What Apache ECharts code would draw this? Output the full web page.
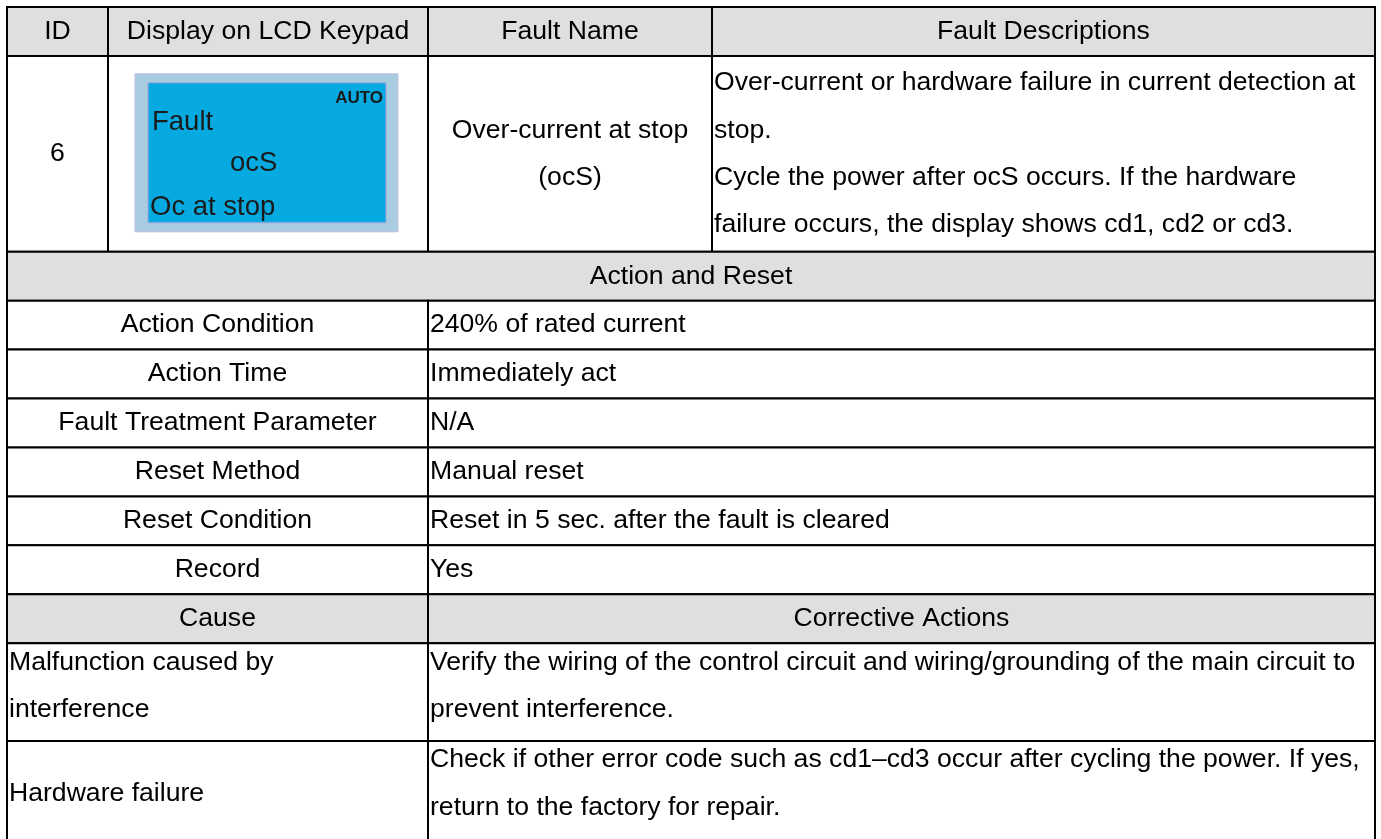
<!DOCTYPE html>
<html>
<head>
<meta charset="utf-8">
<script src="https://cdn.jsdelivr.net/npm/echarts@6/dist/echarts.min.js"></script>
<style>
html,body{margin:0;padding:0;background:#fff;}
#chart{width:1381px;height:839px;}
</style>
</head>
<body>
<div id="chart"></div>
<script>
// ---- table content ----
const headers = ['ID', 'Display on LCD Keypad', 'Fault Name', 'Fault Descriptions'];
const faultId = '6';
const lcdLines = ['AUTO', 'Fault', 'ocS', 'Oc at stop'];
const faultName = ['Over-current at stop', '(ocS)'];
const faultDesc = [
  'Over-current or hardware failure in current detection at',
  'stop.',
  'Cycle the power after ocS occurs. If the hardware',
  'failure occurs, the display shows cd1, cd2 or cd3.'
];
const sectionTitle = 'Action and Reset';
const actionLabels = ['Action Condition', 'Action Time', 'Fault Treatment Parameter', 'Reset Method', 'Reset Condition', 'Record'];
const actionValues = ['240% of rated current', 'Immediately act', 'N/A', 'Manual reset', 'Reset in 5 sec. after the fault is cleared', 'Yes'];
const causeHeaders = ['Cause', 'Corrective Actions'];
const causes = [['Malfunction caused by', 'interference'], ['Hardware failure']];
const corrective = [
  ['Verify the wiring of the control circuit and wiring/grounding of the main circuit to', 'prevent interference.'],
  ['Check if other error code such as cd1\u2013cd3 occur after cycling the power. If yes,', 'return to the factory for repair.']
];

// ---- layout (structure of the table, not data) ----
const COL_W = [101, 320, 284, 663];
const colX = [0];
COL_W.forEach(w => colX.push(colX[colX.length - 1] + w));
const TOTAL_W = colX[colX.length - 1];
const ROWS_TOTAL = 17;
const HEADER_FILL = '#dfdfdf';
const FONT = '"Liberation Sans", Arial, sans-serif';
const FS = 26.6;
const LH = 47.3;

// build cells
const cells = [];
headers.forEach((h, i) => cells.push({c: [i, i + 1], r: [0, 1], lines: [h], fill: HEADER_FILL, align: 'center'}));
cells.push({c: [0, 1], r: [1, 5], lines: [faultId], align: 'center'});
cells.push({c: [1, 2], r: [1, 5], lines: lcdLines, kind: 'lcd'});
cells.push({c: [2, 3], r: [1, 5], lines: faultName, align: 'center'});
cells.push({c: [3, 4], r: [1, 5], lines: faultDesc, align: 'left'});
cells.push({c: [0, 4], r: [5, 6], lines: [sectionTitle], fill: HEADER_FILL, align: 'center'});
actionLabels.forEach((lab, i) => {
  cells.push({c: [0, 2], r: [6 + i, 7 + i], lines: [lab], align: 'center'});
  cells.push({c: [2, 4], r: [6 + i, 7 + i], lines: [actionValues[i]], align: 'left'});
});
const causeTop = 6 + actionLabels.length;
cells.push({c: [0, 2], r: [causeTop, causeTop + 1], lines: [causeHeaders[0]], fill: HEADER_FILL, align: 'center'});
cells.push({c: [2, 4], r: [causeTop, causeTop + 1], lines: [causeHeaders[1]], fill: HEADER_FILL, align: 'center'});
let rr = causeTop + 1;
causes.forEach((cs, i) => {
  const span = 2;
  const last = i === causes.length - 1;
  const r1 = last ? rr + span + 0.15 : rr + span;
  cells.push({c: [0, 2], r: [rr, r1], lines: cs, align: 'left', topMode: cs.length > 1});
  cells.push({c: [2, 4], r: [rr, r1], lines: corrective[i], align: 'left', topMode: corrective[i].length > 1});
  rr += span;
});

const data = cells.map((c, i) => [colX[c.c[0]], c.r[0], colX[c.c[1]], c.r[1], i]);

function renderItem(params, api) {
  const cell = cells[api.value(4)];
  const p0 = api.coord([api.value(0), api.value(1)]);
  const p1 = api.coord([api.value(2), api.value(3)]);
  const x0 = p0[0], y0 = p0[1], x1 = p1[0], y1 = p1[1];
  const children = [{
    type: 'rect',
    shape: {x: x0, y: y0, width: x1 - x0, height: y1 - y0},
    style: {fill: cell.fill || '#ffffff', stroke: '#000', lineWidth: 2}
  }];
  const cx = (x0 + x1) / 2, cy = (y0 + y1) / 2;
  if (cell.kind === 'lcd') {
    const ox = cx - 133, oy = cy - 80;
    children.push({type: 'rect', shape: {x: ox, y: oy, width: 263, height: 158},
      style: {fill: '#a8cde1', stroke: '#c4bde3', lineWidth: 1}});
    children.push({type: 'rect', shape: {x: ox + 13, y: oy + 9, width: 238, height: 140},
      style: {fill: '#06aae1', stroke: '#a9a4dc', lineWidth: 1}});
    const L = cell.lines;
    children.push({type: 'text', style: {text: L[0], x: ox + 248, y: oy + 24.5, textAlign: 'right', textVerticalAlign: 'middle',
      fontFamily: FONT, fontSize: 17, fontWeight: 'bold', fill: '#1a1a1a'}});
    children.push({type: 'text', style: {text: L[1], x: ox + 17, y: oy + 49, textAlign: 'left', textVerticalAlign: 'middle',
      fontFamily: FONT, fontSize: 27.5, fill: '#1a1a1a'}});
    children.push({type: 'text', style: {text: L[2], x: ox + 95, y: oy + 90, textAlign: 'left', textVerticalAlign: 'middle',
      fontFamily: FONT, fontSize: 27.5, fill: '#1a1a1a'}});
    children.push({type: 'text', style: {text: L[3], x: ox + 15, y: oy + 134, textAlign: 'left', textVerticalAlign: 'middle',
      fontFamily: FONT, fontSize: 27.5, fill: '#1a1a1a'}});
  } else {
    const n = cell.lines.length;
    const startY = cell.topMode ? y0 + 19 : cy - (n - 1) * LH / 2;
    const tx = cell.align === 'left' ? x0 + 2 : cx;
    cell.lines.forEach((t, k) => {
      children.push({type: 'text', style: {text: t, x: tx, y: startY + k * LH, textAlign: cell.align,
        textVerticalAlign: 'middle', fontFamily: FONT, fontSize: FS, fill: '#000'}});
    });
  }
  return {type: 'group', children: children};
}

const chart = echarts.init(document.getElementById('chart'), null, {renderer: 'canvas'});
chart.setOption({
  animation: false,
  backgroundColor: '#fff',
  grid: {left: 7, right: 6, top: 7, bottom: 0},
  xAxis: {type: 'value', min: 0, max: TOTAL_W, show: false},
  yAxis: {type: 'value', min: 0, max: ROWS_TOTAL, inverse: true, show: false},
  series: [{
    type: 'custom',
    renderItem: renderItem,
    encode: {x: [0, 2], y: [1, 3]},
    data: data,
    silent: true
  }]
});
</script>
</body>
</html>
